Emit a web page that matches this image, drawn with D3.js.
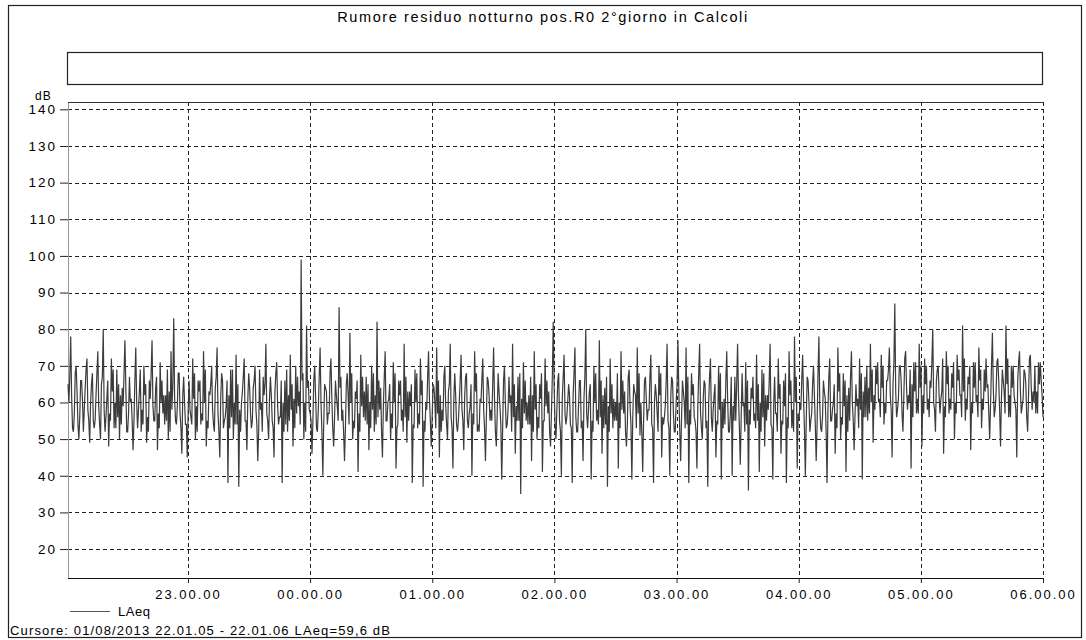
<!DOCTYPE html>
<html>
<head>
<meta charset="utf-8">
<script src="https://cdn.jsdelivr.net/npm/d3@7"></script>
<style>
  html, body { margin: 0; padding: 0; background: #fff; }
  svg { display: block; font-family: "Liberation Sans", Arial, sans-serif; }
</style>
</head>
<body>
<svg id="chart" width="1086" height="640"></svg>
<script>
// ---- data ----
const chartTitle = "Rumore residuo notturno pos.R0 2°giorno in Calcoli";
const seriesName = "LAeq";
const yUnit = "dB";
const cursorText = "Cursore: 01/08/2013 22.01.05 - 22.01.06  LAeq=59,6 dB";
const startTime = "2013-08-01T22:01:05";
const endTime = "2013-08-02T06:00:00";
const yTickValues = [20, 30, 40, 50, 60, 70, 80, 90, 100, 110, 120, 130, 140];
const xTickTimes = ["2013-08-01T23:00:00", "2013-08-02T00:00:00", "2013-08-02T01:00:00",
  "2013-08-02T02:00:00", "2013-08-02T03:00:00", "2013-08-02T04:00:00",
  "2013-08-02T05:00:00", "2013-08-02T06:00:00"];
const xTickLabels = ["23.00.00", "00.00.00", "01.00.00", "02.00.00", "03.00.00", "04.00.00", "05.00.00", "06.00.00"];

// LAeq peaks/dips (one block per hour)
const peak2200 = [65,78,52,70,50,66,58,72,49,68,55,74,50,80,56,48,72,53,69,50,64,77,52,60,47,75,58,52,70,49,66,77,55,47,71,57,62,50,74,83,54,68,46,60,45];
const peak2300 = [58,72,50,66,54,74,48,63,70,52,75,45,66,56,38,69,50,73,37,60,72,47,64,55,70,44,58,67,76,50,62,45,71,56,38,66,52,73,48,70,59,99,50,81,58];
const peak0000 = [46,70,52,75,40,64,57,72,48,62,86,55,44,68,79,50,63,41,73,56,67,47,70,52,82,58,45,74,60,50,71,42,66,55,76,49,63,38,69,53,72,37,60,74,48];
const peak0100 = [64,75,45,58,70,50,76,42,62,55,73,47,68,57,40,74,52,61,72,44,66,58,75,48,63,39,70,54,60,76,46,67,35,71,55,62,44,74,50,65,41,72,57,48,82];
const peak0200 = [50,68,40,73,56,62,38,75,52,66,44,80,58,39,70,55,77,46,64,37,72,53,60,42,74,57,48,69,39,63,75,51,41,67,58,73,38,62,70,45,56,76,40,66,52];
const peak0300 = [77,44,63,75,38,68,56,42,76,50,65,37,72,58,45,70,39,61,74,52,40,67,76,43,59,71,36,64,55,73,41,69,48,62,76,39,57,72,46,66,38,74,53,78,42];
const peak0400 = [60,73,40,66,55,70,44,78,52,63,38,72,58,46,75,50,68,41,64,74,47,59,72,39,67,55,76,49,70,60,73,54,66,75,45,87,58,70,52,74,62,42,71,57,76];
const peak0500 = [48,72,58,66,80,52,70,61,46,74,57,68,50,73,62,81,55,67,47,71,60,75,53,69,64,50,79,58,72,48,66,81,56,70,62,45,74,59,68,52,73,63,57,71,66];
// LAeq in-between samples (the dense grey band), same hourly blocks
const band2200 = [60,62,57,63,56,61,64,58,60,55,62,59,65,58,61,57,63,60,56,62,59,64,57,61,55,60,63,58,62,56,61,59,64,57,60,62,55,63,58,61,59,57,62,54,58];
const band2300 = [56,61,59,63,57,60,55,62,58,64,57,61,53,59,62,56,60,54,58,63,55,61,57,64,58,52,60,62,57,61,55,63,59,56,60,54,62,58,61,57,63,66,60,64,57];
const band0000 = [55,62,58,60,54,63,57,61,56,59,64,58,53,62,60,55,61,57,59,63,54,60,58,62,56,64,59,55,61,57,60,53,62,58,56,63,59,54,60,57,62,55,58,61,56];
const band0100 = [60,57,62,55,59,63,56,61,54,60,58,62,55,59,57,63,54,60,58,56,62,55,61,57,59,53,60,58,62,56,59,55,61,57,60,54,62,58,56,61,55,59,63,57,64];
const band0200 = [58,55,61,57,60,54,62,56,59,53,61,57,63,55,60,58,56,62,54,59,57,61,55,60,58,63,54,59,56,62,57,60,55,61,58,54,60,57,62,56,59,55,61,57,60];
const band0300 = [63,56,60,54,58,62,55,59,57,61,53,60,56,62,55,58,60,54,61,57,59,55,62,56,60,54,58,61,57,55,60,56,62,58,54,60,57,61,55,59,56,62,58,60,57];
const band0400 = [58,61,55,60,57,62,54,59,56,61,58,55,60,57,63,56,59,62,55,60,57,61,58,63,56,64,60,62,65,61,64,60,66,62,65,63,61,66,62,64,60,65,63,61,64];
const band0500 = [62,65,61,64,60,66,62,63,59,65,61,64,60,66,62,63,61,65,60,64,62,66,61,63,65,60,64,62,66,61,63,65,62,64,60,66,63,61,65,62,64,60,63,65,62];
// LAeq fast fluctuation samples inside the band, same hourly blocks
const fine2200 = [67,53,68,54,66,52,69,55,65,53,68,54,67,52,66,55,69,53,65,54,68,52,67,55,66,53,69,54,65,52,68,55,67,53,66,54,69,52,65,55,68,53,67,54,66];
const fine2300 = [54,68,52,66,55,69,53,65,54,67,52,68,55,66,53,69,54,65,52,67,55,68,53,66,54,69,52,65,55,67,53,68,54,66,52,69,55,65,53,67,54,68,52,66,55];
const fine0000 = [66,53,67,52,65,54,68,53,66,55,67,52,65,54,68,53,66,52,67,55,65,53,68,54,66,52,67,55,65,53,68,54,66,52,67,55,65,53,68,54,66,52,67,55,65];
const fine0100 = [53,66,52,67,54,65,53,68,52,66,55,67,53,65,54,68,52,66,53,67,55,65,52,68,54,66,53,67,52,65,55,68,53,66,54,67,52,65,53,68,55,66,52,67,54];
const fine0200 = [66,52,67,54,65,53,68,52,66,55,67,53,65,52,68,54,66,53,67,52,65,55,68,53,66,52,67,54,65,53,68,52,66,55,67,53,65,52,68,54,66,53,67,52,65];
const fine0300 = [52,66,53,67,54,65,52,68,53,66,55,67,52,65,54,68,53,66,52,67,55,65,53,68,52,66,54,67,53,65,52,68,55,66,53,67,52,65,54,68,53,66,52,67,55];
const fine0400 = [66,53,67,52,65,54,68,53,66,52,67,55,65,53,68,54,66,52,67,55,65,53,68,56,70,57,69,58,71,56,70,57,69,58,71,56,70,57,72,58,69,56,71,57,70];
const fine0500 = [57,70,56,71,58,69,57,72,56,70,58,71,57,69,56,72,58,70,57,71,56,69,58,72,57,70,56,71,58,69,57,72,56,70,58,71,57,69,56,72,58,70,57,71,56];

const peaks = [].concat(peak2200, peak2300, peak0000, peak0100, peak0200, peak0300, peak0400, peak0500);
const band = [].concat(band2200, band2300, band0000, band0100, band0200, band0300, band0400, band0500);
const fine = [].concat(fine2200, fine2300, fine0000, fine0100, fine0200, fine0300, fine0400, fine0500);
// samples in time order: peak/dip, band, fine, next peak/dip ...
const laeq = [];
peaks.forEach((v, i) => { laeq.push(v); laeq.push(band[i]); laeq.push(fine[i]); });

// ---- layout ----
const svg = d3.select("#chart");
const plot = { left: 68, right: 1043, top: 102, bottom: 578 };

const t0 = new Date(startTime), t1 = new Date(endTime);
const x = d3.scaleTime().domain([t0, t1]).range([plot.left, plot.right]);
const y = d3.scaleLinear().domain([12.1, 142]).range([plot.bottom, plot.top]);
const times = laeq.map((d, i) => new Date(+t0 + (t1 - t0) * i / (laeq.length - 1)));

// outer frame
svg.append("rect").attr("x", 8.5).attr("y", 5.5).attr("width", 1073).attr("height", 632)
  .attr("fill", "none").attr("stroke", "#222").attr("stroke-width", 1.2);

// title
svg.append("text").attr("x", 543).attr("y", 22).attr("text-anchor", "middle")
  .attr("font-size", 14.5).attr("letter-spacing", 1.6).attr("fill", "#000").text(chartTitle);

// empty title box
svg.append("rect").attr("x", 67.5).attr("y", 52.5).attr("width", 975).attr("height", 32)
  .attr("fill", "none").attr("stroke", "#222").attr("stroke-width", 1.2);

// horizontal grid
const gGrid = svg.append("g");
gGrid.selectAll("line.h").data(yTickValues).join("line")
  .attr("x1", plot.left).attr("x2", plot.right)
  .attr("y1", d => Math.round(y(d)) + 0.5).attr("y2", d => Math.round(y(d)) + 0.5)
  .attr("stroke", "#222").attr("stroke-width", 1).attr("stroke-dasharray", "4,3");
// vertical grid
const xTicks = xTickTimes.map(s => new Date(s));
gGrid.selectAll("line.v").data(xTicks).join("line")
  .attr("x1", d => Math.round(x(d)) + 0.5).attr("x2", d => Math.round(x(d)) + 0.5)
  .attr("y1", plot.top).attr("y2", plot.bottom)
  .attr("stroke", "#222").attr("stroke-width", 1).attr("stroke-dasharray", "4,3");

// plot borders
svg.append("line").attr("x1", plot.left + 0.5).attr("x2", plot.left + 0.5)
  .attr("y1", plot.top).attr("y2", plot.bottom).attr("stroke", "#999").attr("stroke-width", 1);
svg.append("line").attr("x1", plot.left).attr("x2", plot.right)
  .attr("y1", plot.top + 0.5).attr("y2", plot.top + 0.5).attr("stroke", "#333").attr("stroke-width", 1);

// data line
svg.append("path").datum(laeq)
  .attr("fill", "none").attr("stroke", "#3c3c3c").attr("stroke-width", 1.2)
  .attr("stroke-linejoin", "miter")
  .attr("d", d3.line().x((d, i) => x(times[i])).y(d => y(d)));

// y axis
const yAxis = d3.axisLeft(y).tickValues(yTickValues).tickSize(8).tickPadding(3).tickFormat(d3.format("d"));
const gy = svg.append("g").attr("transform", `translate(${plot.left},0)`).call(yAxis);
gy.select(".domain").remove();
gy.selectAll(".tick line").attr("stroke", "#222");
gy.selectAll(".tick text").attr("font-size", 13.5).attr("letter-spacing", 2)
  .attr("font-family", "Liberation Sans, Arial, sans-serif").attr("fill", "#000");

svg.append("text").attr("x", 35).attr("y", 100).attr("font-size", 12).attr("letter-spacing", 1)
  .attr("fill", "#000").text(yUnit);

// x axis
const xAxis = d3.axisBottom(x).tickValues(xTicks).tickSize(5).tickPadding(7)
  .tickFormat((d, i) => xTickLabels[i]);
const gx = svg.append("g").attr("transform", `translate(0,${plot.bottom})`).call(xAxis);
gx.select(".domain").attr("stroke", "#111").attr("stroke-width", 1.2).attr("d", `M${plot.left},0.5H${plot.right}`);
gx.selectAll(".tick line").attr("stroke", "#222");
gx.selectAll(".tick text").attr("font-size", 13).attr("letter-spacing", 2)
  .attr("font-family", "Liberation Sans, Arial, sans-serif").attr("fill", "#000");

// legend
svg.append("line").attr("x1", 70).attr("x2", 110).attr("y1", 611.5).attr("y2", 611.5)
  .attr("stroke", "#555").attr("stroke-width", 1.2);
svg.append("text").attr("x", 118).attr("y", 616).attr("font-size", 13).attr("letter-spacing", 0.5)
  .attr("fill", "#000").text(seriesName);

// cursor line
svg.append("text").attr("x", 10).attr("y", 635).attr("font-size", 13).attr("letter-spacing", 1.15)
  .attr("fill", "#000").text(cursorText);
</script>
</body>
</html>
